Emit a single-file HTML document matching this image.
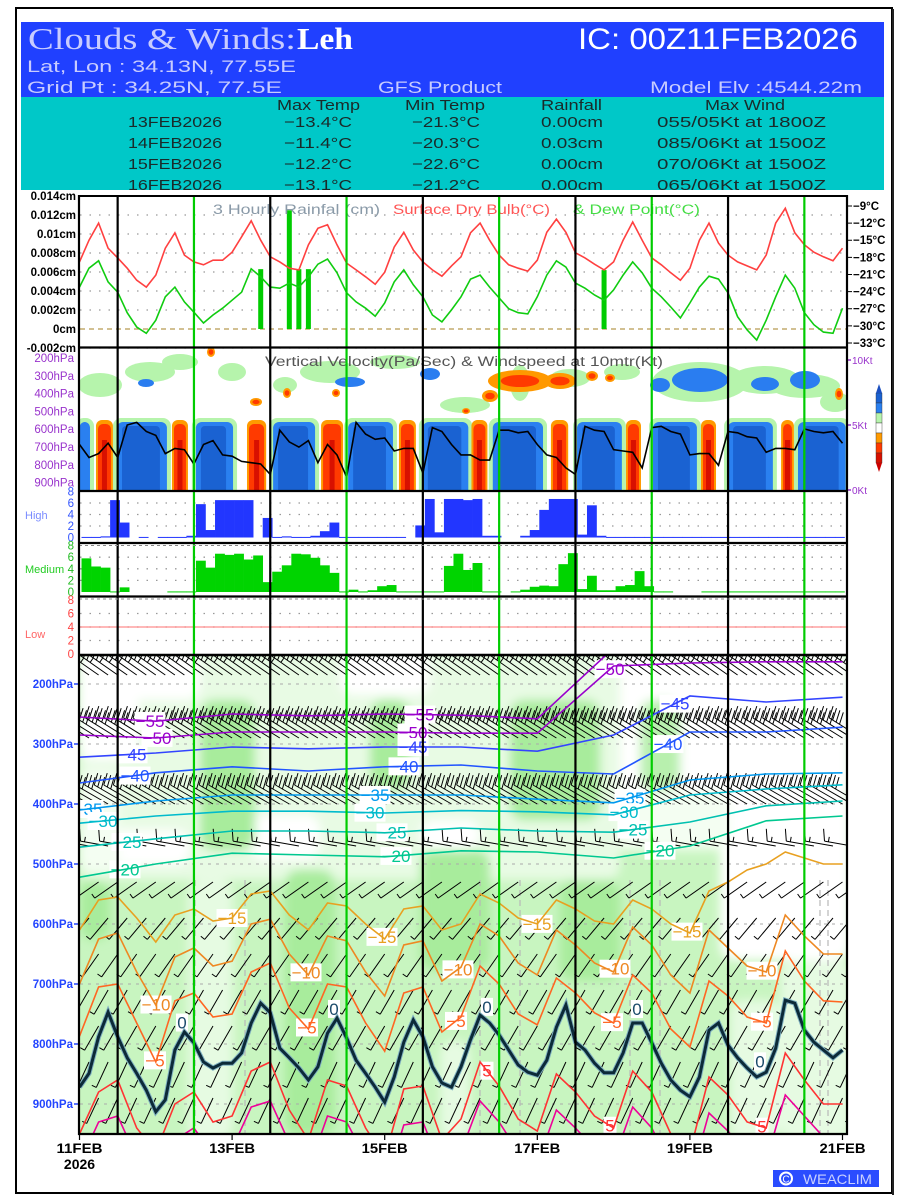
<!DOCTYPE html>
<html><head><meta charset="utf-8"><title>Clouds &amp; Winds: Leh</title>
<style>
html,body{margin:0;padding:0;background:#fff;width:900px;height:1200px;overflow:hidden}
svg{display:block;font-family:"Liberation Sans",sans-serif}
</style></head>
<body>
<svg id="chart" width="900" height="1200" viewBox="0 0 900 1200" xmlns="http://www.w3.org/2000/svg">
<defs>
<clipPath id="clipX"><rect x="79" y="655" width="768" height="479"/></clipPath>
<clipPath id="clipVV"><rect x="79" y="348" width="768" height="143"/></clipPath>
<clipPath id="clipHdr"><rect x="21" y="97" width="863" height="93"/></clipPath>
<filter id="blur" x="-10%" y="-10%" width="120%" height="120%"><feGaussianBlur stdDeviation="5"/></filter>
</defs>
<rect x="16" y="8" width="876" height="1185" fill="#fff" stroke="#000" stroke-width="2"/>
<line x1="893" y1="9" x2="893" y2="1195" stroke="#222" stroke-width="2"/>
<g>
<rect x="21" y="22" width="863" height="76" fill="#2040ff"/>
<rect x="21" y="97" width="863" height="93" fill="#00c8c8"/>
<text x="28" y="49" font-family="'Liberation Serif',serif" font-size="31" fill="#c8ccff" textLength="268" lengthAdjust="spacingAndGlyphs">Clouds &amp; Winds:</text>
<text x="297" y="49" font-family="'Liberation Serif',serif" font-size="31" font-weight="bold" fill="#fff" textLength="56" lengthAdjust="spacingAndGlyphs">Leh</text>
<text x="578" y="49" font-size="30" fill="#fff" textLength="280" lengthAdjust="spacingAndGlyphs">IC: 00Z11FEB2026</text>
<text x="27" y="72" font-size="17" fill="#c8ccff" textLength="269" lengthAdjust="spacingAndGlyphs">Lat, Lon : 34.13N, 77.55E</text>
<text x="27" y="93" font-size="17" fill="#c8ccff" textLength="255" lengthAdjust="spacingAndGlyphs">Grid Pt  : 34.25N, 77.5E</text>
<text x="378" y="93" font-size="17" fill="#c8ccff" textLength="124" lengthAdjust="spacingAndGlyphs">GFS Product</text>
<text x="650" y="93" font-size="17" fill="#c8ccff" textLength="212" lengthAdjust="spacingAndGlyphs">Model Elv :4544.22m</text>
<g clip-path="url(#clipHdr)" font-size="15" fill="#1a2a2a">
<text x="277" y="110" textLength="83" lengthAdjust="spacingAndGlyphs">Max Temp</text>
<text x="405" y="110" textLength="80" lengthAdjust="spacingAndGlyphs">Min Temp</text>
<text x="541" y="110" textLength="61" lengthAdjust="spacingAndGlyphs">Rainfall</text>
<text x="705" y="110" textLength="80" lengthAdjust="spacingAndGlyphs">Max Wind</text>
<g><text x="128" y="127" textLength="94" lengthAdjust="spacingAndGlyphs">13FEB2026</text><text x="284" y="127" textLength="68" lengthAdjust="spacingAndGlyphs">−13.4°C</text><text x="412" y="127" textLength="68" lengthAdjust="spacingAndGlyphs">−21.3°C</text><text x="541" y="127" textLength="62" lengthAdjust="spacingAndGlyphs">0.00cm</text><text x="657" y="127" textLength="169" lengthAdjust="spacingAndGlyphs">055/05Kt at 1800Z</text></g>
<g><text x="128" y="148" textLength="94" lengthAdjust="spacingAndGlyphs">14FEB2026</text><text x="284" y="148" textLength="68" lengthAdjust="spacingAndGlyphs">−11.4°C</text><text x="412" y="148" textLength="68" lengthAdjust="spacingAndGlyphs">−20.3°C</text><text x="541" y="148" textLength="62" lengthAdjust="spacingAndGlyphs">0.03cm</text><text x="657" y="148" textLength="169" lengthAdjust="spacingAndGlyphs">085/06Kt at 1500Z</text></g>
<g><text x="128" y="169" textLength="94" lengthAdjust="spacingAndGlyphs">15FEB2026</text><text x="284" y="169" textLength="68" lengthAdjust="spacingAndGlyphs">−12.2°C</text><text x="412" y="169" textLength="68" lengthAdjust="spacingAndGlyphs">−22.6°C</text><text x="541" y="169" textLength="62" lengthAdjust="spacingAndGlyphs">0.00cm</text><text x="657" y="169" textLength="169" lengthAdjust="spacingAndGlyphs">070/06Kt at 1500Z</text></g>
<g><text x="128" y="190" textLength="94" lengthAdjust="spacingAndGlyphs">16FEB2026</text><text x="284" y="190" textLength="68" lengthAdjust="spacingAndGlyphs">−13.1°C</text><text x="412" y="190" textLength="68" lengthAdjust="spacingAndGlyphs">−21.2°C</text><text x="541" y="190" textLength="62" lengthAdjust="spacingAndGlyphs">0.00cm</text><text x="657" y="190" textLength="169" lengthAdjust="spacingAndGlyphs">065/06Kt at 1500Z</text></g>
</g>
</g>
<g id="root"></g>
<g>
<rect x="773" y="1170" width="106" height="17" fill="#2a4cff"/>
<circle cx="786" cy="1178.5" r="6" fill="none" stroke="#fff" stroke-width="2"/>
<text x="786" y="1182.5" font-size="10" fill="#fff" text-anchor="middle">C</text>
<text x="803" y="1184" font-size="14" fill="#c8d0ff" textLength="69" lengthAdjust="spacingAndGlyphs">WEACLIM</text>
</g>
</svg>
<script>
// ---------- DATA (3-hourly from 11FEB2026 00Z) ----------
const dryBulb = [-18.8,-15.0,-12.0,-16.4,-18.1,-19.9,-22.0,-23.2,-21.1,-16.4,
-13.7,-17.6,-18.8,-19.3,-18.5,-18.5,-17.1,-14.4,-11.6,-15.0,
-17.9,-18.8,-19.9,-20.2,-15.8,-12.9,-12.3,-15.8,-19.0,-20.2,
-21.4,-22.7,-20.6,-16.2,-13.6,-16.7,-18.8,-20.2,-21.3,-19.5,
-17.9,-13.7,-12.0,-15.0,-17.6,-19.3,-19.9,-20.4,-18.5,-13.6,
-11.3,-13.6,-17.2,-18.1,-19.2,-20.2,-18.8,-15.0,-11.8,-15.0,
-18.1,-19.3,-20.7,-22.0,-19.9,-15.0,-12.0,-15.5,-17.6,-18.8,
-19.5,-20.2,-17.6,-12.0,-9.4,-13.7,-15.8,-17.1,-17.9,-18.6,-16.4];
const dewPoint = [-23.2,-19.9,-18.6,-22.3,-24.1,-27.7,-30.2,-31.3,-29.0,-24.9,
-23.2,-25.8,-27.6,-29.5,-28.1,-26.9,-25.5,-24.1,-20.0,-21.4,
-23.2,-23.4,-22.5,-23.2,-21.4,-19.2,-18.3,-20.7,-24.2,-25.8,
-26.9,-28.3,-26.0,-22.3,-20.2,-22.8,-24.9,-28.1,-29.3,-27.2,
-24.9,-21.8,-21.1,-23.2,-25.1,-27.0,-27.7,-27.9,-24.9,-21.1,
-18.6,-19.7,-22.5,-23.4,-24.6,-25.5,-23.7,-21.1,-18.8,-20.7,
-23.4,-24.9,-26.7,-28.6,-26.0,-23.2,-21.3,-21.8,-24.2,-28.4,
-30.7,-32.5,-29.0,-24.9,-21.1,-23.4,-27.7,-29.8,-31.1,-31.3,-26.9];
const rainfall = [0,0,0,0,0,0,0,0,0,0, 0,0,0,0,0,0,0,0,0,0.0063, 0,0,0.0125,0.0063,0.0063,0,0,0,0,0,
0,0,0,0,0,0,0,0,0,0, 0,0,0,0,0,0,0,0,0,0, 0,0,0,0,0,0.0062,0,0,0,0, 0,0,0,0,0,0,0,0,0,0, 0,0,0,0,0,0,0,0,0,0,0];
const wind10m = [3.5,2.5,2.8,3.6,2.5,5.0,5.2,4.5,4.2,2.8,
3.2,3.1,2.0,3.5,3.8,2.7,2.6,2.2,2.1,2.0,
1.2,4.6,3.7,3.3,3.8,2.1,3.5,2.7,1.0,5.2,
4.3,3.9,4.0,3.0,3.2,3.2,1.3,4.8,4.5,3.5,
2.7,2.7,2.3,2.3,4.6,4.6,4.4,4.5,3.5,2.7,
2.5,1.7,1.2,4.9,4.6,4.5,3.1,3.0,2.9,1.7,
4.8,4.9,4.5,4.3,2.7,2.8,2.8,1.9,4.5,4.4,
4.1,4.0,2.9,3.2,3.2,3.1,4.7,4.5,4.4,4.5,3.6];
const highCloud = [0.1,0.1,0.2,6.5,2.6,0,0.1,0,0.1,0.1,
0.1,0.3,5.8,1.3,6.5,6.5,6.5,6.5,0,3.4,
0.1,0.2,0.1,0.1,0.3,1.1,2.6,0.1,0.1,0.1,
0.1,0.1,0.1,0.1,0,2.1,6.7,0.9,6.7,6.7,
6.5,6.7,0.3,0.3,0,0,0.3,1.3,4.8,6.7,
6.7,6.7,0.5,5.6,0.3,0.1,0.1,0.1,0.1,0.1,
0.1,0.1,0.1,0.1,0.1,0.1,0.1,0.1,0.1,0.1,
0.1,0.1,0.1,0.1,0.1,0.1,0.1,0.1,0.1,0.1];
const mediumCloud = [5.8,4.4,4.2,0.1,0.8,0,0,0,0,0.1,
0.1,0.1,5.4,4.2,6.6,6.4,6.6,5.6,6.3,1.7,
3.5,4.6,6.6,6.5,5.9,4.6,3.3,0.1,0.4,0.1,
0.3,1.0,1.2,0.1,0.1,0.1,0.1,0.1,4.5,6.6,
3.8,5.0,0.1,0.1,0,0.1,0.4,0.9,1.1,1.0,
4.8,6.7,0.5,2.8,0.3,0.3,1.0,1.2,3.6,1.0,
0.1,0.1,0,0,0,0.1,0.1,0.1,0.1,0.1,
0.1,0.1,0.1,0.1,0.1,0.1,0.1,0.1,0.1,0.1];
const lowCloud = new Array(80).fill(0);
const rainTicks = [0.014,0.012,0.01,0.008,0.006,0.004,0.002,0,-0.002];
const rainTickLabels = ["0.014cm","0.012cm","0.01cm","0.008cm","0.006cm","0.004cm","0.002cm","0cm","-0.002cm"];
const tempTicks = [-9,-12,-15,-18,-21,-24,-27,-30,-33];
const vvLevels = [200,300,400,500,600,700,800,900];
const cloudTicks = [8,6,4,2,0];
const pressureTicks = [200,300,400,500,600,700,800,900];
const dateLabels = ["11FEB","13FEB","15FEB","17FEB","19FEB","21FEB"];
const dateDays = [0,2,4,6,8,10];
const iso0 = [872,849,788,747,788,823,849,877,913,893,
810,780,798,830,840,832,832,815,765,732,
748,807,823,840,860,838,782,757,790,827,
849,872,897,855,797,760,788,838,865,872,
838,793,752,765,785,810,835,847,852,827,
772,735,797,810,832,848,848,815,765,765,
798,832,860,877,888,855,777,765,802,823,
840,855,847,807,727,732,777,797,810,823,810];
const isoM5 = [787,705,700,765,830,728,715,755,750,680,665,740,775,700,705,765,812,715,705,780,755,670,700,750,768,690,715,748,765,685,715,775,805,695,720,755,765,645,695,728,730];
const isoM10 = [700,625,615,680,735,655,640,670,662,600,592,650,685,620,628,680,720,635,628,695,672,600,620,665,685,610,635,665,680,605,635,685,715,610,640,670,680,585,620,650,650];
const isoM15 = [610,560,555,590,630,585,575,595,590,550,545,585,610,565,570,600,625,575,570,610,600,550,565,590,600,560,575,595,600,560,575,600,615,545,530,510,500,480,490,500,500];
const isoP5 = [950,880,860,940,980,900,880,930,920,845,830,910,960,860,870,940,990,875,870,960,925,830,870,925,945,850,880,920,940,845,880,950,980,855,885,930,940,815,860,900,900];
const isoP10 = [1000,930,920,990,1040,960,940,985,975,905,895,965,1010,920,930,990,1040,935,930,1010,980,895,930,980,1000,910,940,975,995,905,940,1005,1030,915,945,985,995,885,920,955,955];
const isoM20 = [522,500,482,485,488,478,480,490,470,428,420];
const isoM25 = [472,458,445,445,448,440,445,447,430,403,395];
const isoM30 = [432,420,412,412,415,411,413,418,385,375,368];
const isoM35 = [410,395,385,385,385,385,392,398,360,350,348];
const isoM40 = [365,348,338,345,338,335,345,350,280,280,272];
const isoM45 = [322,315,305,308,305,305,312,285,220,230,222];
const isoM50 = [285,290,280,280,280,282,282,170,165,163,163];
const isoM55 = [255,262,250,253,250,252,258,140,140,140,140];
const vvSinking = [[0,3.3],[11.8,27.5],[36.6,48.3],[60.9,74.1],[84.5,98.6],[108,122.3],[130,145.8],[156.5,170.6],[180.4,194.2],[204,218.1],[226,241]];
const vvRising = [[5.5,10.2],[29.4,33.8],[53,58.4],[76.3,82.6],[100.8,105.5],[123.6,128],[148.6,153.4],[172.2,176.3],[195.8,199.9],[221,224.4]];
const barbLevels = [185,290,400,470,530,590,650,710,770,830,890,950];
const barbSpeed = [45,40,30,15,5,5,5,5,5,5,5,5];
const barbDir = [305,302,300,280,235,220,215,210,210,205,205,200];
const barbStepK = [1,1,1,2,2,2,2,2,2,2,2,2];

// ---------- SCALES ----------
const root = document.getElementById('root');
const NS = 'http://www.w3.org/2000/svg';
const X0 = 79.5, PXH = 76.3/24;
function xH(h){ return X0 + h*PXH; }
function xK(k){ return xH(3*k); }
function yRain(v){ return 329 - v*9500; }
function yTemp(t){ return 206 + (-9 - t)*5.708; }
function yWind(kt){ return 490 - 13*kt; }
function yVVp(p){ return 358 + (p-200)*0.178; }
function yHigh(v){ return 537.5 - 5.75*v; }
function yMed(v){ return 592 - 5.8*v; }
function yLow(v){ return 654 - 6.75*v; }
function yP(p){ return 684 + (p-200)*0.6; }
function mk(tag, attrs, parent){
  const e = document.createElementNS(NS, tag);
  for (const a in attrs) e.setAttribute(a, attrs[a]);
  (parent || root).appendChild(e);
  return e;
}
function grp(name){
  const g = mk('g', {});
  
  
  return g;
}
function pts(arr, xf, yf){ return arr.map((v,i)=>xf(i).toFixed(1)+','+yf(v).toFixed(1)).join(' '); }
function interp(arr, stepH, h){
  const f = h/stepH; const i = Math.max(0, Math.min(arr.length-2, Math.floor(f)));
  const t = f - i; return arr[i]*(1-t) + arr[i+1]*t;
}

// ---------- GRIDS ----------
const gGrid = grp('grid-lines');
rainTicks.forEach(v=>{
  if (v===0) return;
  const l = mk('line',{x1:80,x2:846,y1:yRain(v),y2:yRain(v),stroke:'#999','stroke-width':1.3,'stroke-dasharray':'1.5,8'},gGrid);
  
  
});
[2,4,6].forEach(v=>{
  const a = mk('line',{x1:80,x2:846,y1:yHigh(v),y2:yHigh(v),stroke:'#999','stroke-width':1.3,'stroke-dasharray':'1.5,8'},gGrid);
  
  
  const b = mk('line',{x1:80,x2:846,y1:yMed(v),y2:yMed(v),stroke:'#999','stroke-width':1.3,'stroke-dasharray':'1.5,8'},gGrid);
  
  
  const c = mk('line',{x1:80,x2:846,y1:yLow(v),y2:yLow(v),stroke:'#999','stroke-width':1.3,'stroke-dasharray':'1.5,8'},gGrid);
  
  
});

// ---------- PANEL 1 ----------
const g1 = grp('temperature-rain-panel');
const zl = mk('line',{x1:80,x2:846,y1:yRain(0),y2:yRain(0),stroke:'#b89a50','stroke-width':1.3,'stroke-dasharray':'5,4'},g1);


rainfall.forEach((v,k)=>{
  if (v<=0) return;
  const r = mk('rect',{x:xK(k)-2.5,y:yRain(v),width:5,height:yRain(0)-yRain(v),fill:'#00cc00'},g1);
  
  
});
const dbl = mk('polyline',{points:pts(dryBulb,xK,yTemp),fill:'none',stroke:'#ff4040','stroke-width':1.6},g1);


const dpl = mk('polyline',{points:pts(dewPoint,xK,yTemp),fill:'none',stroke:'#10cc10','stroke-width':1.6},g1);


const t1 = mk('text',{x:213,y:214,'font-size':13.5,fill:'#8a9aa8',textLength:167,lengthAdjust:'spacingAndGlyphs'},g1);
t1.textContent='3 Hourly Rainfal (cm)';


const t2 = mk('text',{x:393,y:214,'font-size':13.5,fill:'#ff5555',textLength:157,lengthAdjust:'spacingAndGlyphs'},g1);
t2.textContent='Surface Dry Bulb(°C)';


const t3 = mk('text',{x:573,y:214,'font-size':13.5,fill:'#44dd44',textLength:127,lengthAdjust:'spacingAndGlyphs'},g1);
t3.textContent='& Dew Point(°C)';


rainTicks.forEach((v,i)=>{
  const t = mk('text',{x:76,y:yRain(v)+4,'font-size':11.5,'font-weight':'bold','text-anchor':'end',fill:'#000'},g1);
  t.textContent = rainTickLabels[i];
  
  
});
tempTicks.forEach(v=>{
  const tk = mk('line',{x1:847,x2:852,y1:yTemp(v),y2:yTemp(v),stroke:'#000','stroke-width':1},g1);
  
  
  const t = mk('text',{x:853,y:yTemp(v)+4,'font-size':11.5,'font-weight':'bold',fill:'#000'},g1);
  t.textContent = '−'+Math.abs(v)+'°C';
  
  
});

// ---------- PANEL 2 ----------
const g2 = grp('vertical-velocity-panel');
const g2c = mk('g',{'clip-path':'url(#clipVV)'},g2);


const blobsG = [[100,385,22,12],[150,372,25,10],[180,362,18,8],[232,372,14,9],[330,372,30,11],[395,362,25,7],[465,405,25,8],[520,383,10,18],[570,378,20,9],[622,372,18,8],[700,382,48,20],[765,380,35,14],[805,386,35,12],[835,402,15,10],[285,385,12,8]];
blobsG.forEach(b=>{
  const e = mk('ellipse',{cx:b[0],cy:b[1],rx:b[2],ry:b[3],fill:'#b6f4ac'},g2c);
  
  
});
const blobsB = [[146,383,8,4],[350,382,15,5],[430,374,10,6],[700,380,28,12],[660,385,10,7],[805,380,15,9],[765,384,14,7]];
blobsB.forEach(b=>{
  const e = mk('ellipse',{cx:b[0],cy:b[1],rx:b[2],ry:b[3],fill:'#2a7df0'},g2c);
  
  
});
const blobsR = [[211,352,4,5],[256,402,6,4],[287,393,4,5],[336,393,4,4],[520,381,32,11],[560,381,16,8],[592,376,6,5],[610,378,5,4],[490,396,8,6],[466,411,4,3],[839,394,4,6]];
blobsR.forEach(b=>{
  const e = mk('ellipse',{cx:b[0],cy:b[1],rx:b[2],ry:b[3],fill:'#ff9900'},g2c);
  
  
  const e2 = mk('ellipse',{cx:b[0],cy:b[1],rx:b[2]*0.6,ry:b[3]*0.55,fill:'#ff3a00'},g2c);
  
  
});
vvSinking.forEach(s=>{
  const x1 = xH(s[0]), x2 = xH(s[1]);
  const a = mk('rect',{x:x1-4,y:418,width:x2-x1+8,height:80,rx:8,fill:'#b6f4ac'},g2c);
  
  
  const b = mk('rect',{x:x1,y:422,width:x2-x1,height:80,rx:6,fill:'#2a80f0'},g2c);
  
  
  const c = mk('rect',{x:x1+5,y:426,width:Math.max(0,x2-x1-12),height:80,rx:4,fill:'#1a62d2'},g2c);
  
  
});
vvRising.forEach(s=>{
  const x1 = xH(s[0]), x2 = xH(s[1]);
  const a = mk('rect',{x:x1-1,y:420,width:x2-x1+2,height:80,rx:6,fill:'#ff9a00'},g2c);
  
  
  const b = mk('rect',{x:x1+1,y:424,width:x2-x1-2,height:80,rx:5,fill:'#ff3a00'},g2c);
  
  
  const c = mk('rect',{x:(x1+x2)/2-2.5,y:440,width:5,height:60,fill:'#d81000'},g2c);
  
  
});
const wl = mk('polyline',{points:pts(wind10m,xK,yWind),fill:'none',stroke:'#000','stroke-width':1.6},g2);


const vt = mk('text',{x:265,y:366,'font-size':13.5,fill:'#555',textLength:398,lengthAdjust:'spacingAndGlyphs'},g2);
vt.textContent='Vertical Velocity(Pa/Sec) & Windspeed at 10mtr(Kt)';


vvLevels.forEach(p=>{
  const t = mk('text',{x:74,y:yVVp(p)+4,'font-size':11.5,'text-anchor':'end',fill:'#9933cc'},g2);
  t.textContent = p+'hPa';
  
  
});
[[10,'10Kt'],[5,'5Kt'],[0,'0Kt']].forEach(d=>{
  const tk = mk('line',{x1:847,x2:851,y1:yWind(d[0]),y2:yWind(d[0]),stroke:'#9933cc','stroke-width':1.5},g2);
  
  
  const t = mk('text',{x:852,y:yWind(d[0])+4,'font-size':10,fill:'#9933cc'},g2);
  t.textContent = d[1];
  
  
});
const cbCols = ['#1a62d2','#2a80f0','#b6f4ac','#ffffff','#ff9a00','#ff3a00','#d81000'];
const cb = grp('vv-colorbar');
cbCols.forEach((c,i)=>{
  const r = mk('rect',{x:876,y:393+i*10,width:6,height:10,fill:c,stroke:'#333','stroke-width':0.4},cb);
  
  
});
const cbt = mk('polygon',{points:'876,393 879,384 882,393',fill:'#1a4fc0'},cb);


const cbb = mk('polygon',{points:'876,463 879,472 882,463',fill:'#c00'},cb);



// ---------- CLOUD PANELS ----------
function cloudPanel(name, arr, yf, color, label, labColor, tickColor, labelY){
  const g = grp(name);
  arr.forEach((v,k)=>{
    if (v<=0) return;
    const x1 = xK(k)+2, x2 = Math.min(847, xK(k+1)+2);
    const r = mk('rect',{x:x1,y:yf(v),width:x2-x1+0.3,height:Math.max(1,yf(0)-yf(v)),fill:color},g);
    
    
  });
  cloudTicks.forEach(v=>{
    const t = mk('text',{x:74,y:yf(v)+4,'font-size':11.5,'text-anchor':'end',fill:tickColor},g);
    t.textContent = v;
    
    
  });
  const l = mk('text',{x:25,y:labelY,'font-size':11,fill:labColor},g);
  l.textContent = label;
  
  
  return g;
}
cloudPanel('high-cloud-panel', highCloud, yHigh, '#2236ff', 'High', '#7a8cff', '#3355ff', 519);
cloudPanel('medium-cloud-panel', mediumCloud, yMed, '#00d400', 'Medium', '#22cc22', '#22bb22', 573);
const lowG = cloudPanel('low-cloud-panel', lowCloud, yLow, '#ff4040', 'Low', '#ff6666', '#ff4444', 638);
const lref = mk('line',{x1:80,x2:846,y1:yLow(4),y2:yLow(4),stroke:'#ff7070','stroke-width':1},lowG);



// ---------- CROSS-SECTION ----------
const g6 = grp('cross-section-panel');
const g6c = mk('g',{'clip-path':'url(#clipX)'},g6);


const bg = mk('rect',{x:79,y:655,width:768,height:479,fill:'#c8f5c0'},g6c);


const rhG = mk('g',{filter:'url(#blur)'},g6c);


const rhShapes = [
 ['#e8fbe4',79,650,530,230],['#ffffff',79,650,60,110],['#ffffff',130,650,70,50],['#ffffff',340,650,90,45],
 ['#ffffff',600,650,250,150],['#ffffff',720,790,130,170],['#f4fef2',610,790,120,60],['#e8fbe4',560,650,60,230],
 ['#ffffff',250,815,70,45],['#ffffff',420,820,60,30],['#ffffff',110,830,80,35],['#f4fef2',79,770,40,100],
 ['#a8ec9c',200,700,55,150],['#a8ec9c',510,700,90,120],['#a8ec9c',420,850,70,120],['#a8ec9c',285,870,50,265],
 ['#a8ec9c',80,880,30,60],['#b8f0ae',640,700,40,90],['#a8ec9c',560,880,60,100],['#a8ec9c',370,700,40,90],
 ['#e6fbe2',188,880,45,260],['#e6fbe2',780,960,70,180],['#e6fbe2',440,1040,30,100],['#e6fbe2',730,1000,50,140]
];
rhShapes.forEach(s=>{
  const r = mk('rect',{x:s[1],y:s[2],width:s[3],height:s[4],rx:14,fill:s[0]},rhG);
  
  
});
pressureTicks.forEach(p=>{
  const l = mk('line',{x1:80,x2:846,y1:yP(p),y2:yP(p),stroke:'#aaa','stroke-width':1,'stroke-dasharray':'3,5'},g6c);
  
  
});
[245,480,520,630,660,820,828,195].forEach(x=>{
  const l = mk('line',{x1:x,x2:x,y1:880,y2:1134,stroke:'#b8b8b8','stroke-width':1.2,'stroke-dasharray':'6,4'},g6c);
  
  
});
const gb = mk('g',{stroke:'#000','stroke-width':1,fill:'none'},g6c);


barbLevels.forEach((p,li)=>{
  const step = barbStepK[li];
  for (let k=(step===2 ? (li%2) : 0); k<=82; k+=step){
    const x = xK(k), y = yP(p);
    const dir = barbDir[li]*Math.PI/180, L = p<450 ? 38 : 28;
    const dx = Math.sin(dir), dy = -Math.cos(dir);
    const ex = x + dx*L, ey = y + dy*L;
    let d = 'M'+x.toFixed(1)+','+y.toFixed(1)+'L'+ex.toFixed(1)+','+ey.toFixed(1);
    let sp = barbSpeed[li], pos = 0;
    const px = -dy, py = dx;
    while (sp >= 10){
      const bx = ex - dx*pos, by = ey - dy*pos;
      d += 'M'+bx.toFixed(1)+','+by.toFixed(1)+'l'+(px*12+dx*3).toFixed(1)+','+(py*12+dy*3).toFixed(1);
      sp -= 10; pos += 4;
    }
    if (sp >= 5){
      const bx = ex - dx*pos, by = ey - dy*pos;
      d += 'M'+bx.toFixed(1)+','+by.toFixed(1)+'l'+(px*5).toFixed(1)+','+(py*5).toFixed(1);
    }
    const b = mk('path',{d:d},gb);
    
    
  }
});
const isoDefs = [
 [isoM55,24,'#9900cc',1.6,'-55',[150,420]],
 [isoM50,24,'#9900cc',1.6,'-50',[157,413,610]],
 [isoM45,24,'#3344ff',1.6,'-45',[132,413,675]],
 [isoM40,24,'#2255ff',1.6,'-40',[135,404,668]],
 [isoM35,24,'#0099ee',1.6,'-35',[88,375,630]],
 [isoM30,24,'#00bbcc',1.6,'-30',[103,370,624]],
 [isoM25,24,'#00c0b0',1.6,'-25',[127,392,633]],
 [isoM20,24,'#00c890',1.6,'-20',[125,396,660]],
 [isoM15,6,'#e8a020',1.6,'-15',[232,382,537,687]],
 [isoM10,6,'#ee8822',1.6,'-10',[156,306,458,615,762]],
 [isoM5,6,'#ff6622',1.6,'-5',[155,307,456,612,762]],
 [isoP5,6,'#ff3333',1.6,'5',[487,610,762]],
 [isoP10,6,'#ee0099',1.6,'',[]]
];
const gl = mk('g',{},g6c);


isoDefs.forEach(def=>{
  const [arr,step,col,w,lab,lx] = def;
  const l = mk('polyline',{points:pts(arr,i=>xH(i*step),yP),fill:'none',stroke:col,'stroke-width':w},g6c);
  
  
  lx.forEach(x=>{
    const h = (x - X0)/PXH; const y = yP(interp(arr, step, h));
    if (y < 660 || y > 1128) return;
    const bw = lab.length*9+4;
    const r = mk('rect',{x:x-bw/2,y:y-9,width:bw,height:18,fill:'#fff'},gl);
    
    
    const t = mk('text',{x:x,y:y+6,'font-size':17,'text-anchor':'middle',fill:col},gl);
    t.textContent = lab.replace('-','−');
    
    
  });
});
const z0a = mk('polyline',{points:pts(iso0,xK,yP),fill:'none',stroke:'#7fb0c0','stroke-width':5},g6c);


const z0 = mk('polyline',{points:pts(iso0,xK,yP),fill:'none',stroke:'#0c2a38','stroke-width':3},g6c);


[182,334,487,637,760].forEach(x=>{
  const h = (x-X0)/PXH; const y = yP(interp(iso0,3,h)) - 14;
  const r = mk('rect',{x:x-6,y:y-9,width:12,height:18,fill:'#fff'},gl);
  
  
  const t = mk('text',{x:x,y:y+6,'font-size':17,'text-anchor':'middle',fill:'#1a4a6a'},gl);
  t.textContent = '0';
  
  
});
pressureTicks.forEach(p=>{
  const tk = mk('line',{x1:74,x2:79,y1:yP(p),y2:yP(p),stroke:'#2244ff','stroke-width':1.5},g6);
  
  
  const t = mk('text',{x:73,y:yP(p)+4,'font-size':11.5,'font-weight':'bold','text-anchor':'end',fill:'#2244ff'},g6);
  t.textContent = p+'hPa';
  
  
});

// ---------- MARKERS / FRAMES / AXIS ----------
const gv = grp('time-markers');
for (let d=0; d<5; d++){
  const xb = xH(12 + 48*d);
  const b = mk('line',{x1:xb,x2:xb,y1:196,y2:1134,stroke:'#000','stroke-width':2.2},gv);
  
  
  const xg = xH(36 + 48*d);
  const g = mk('line',{x1:xg,x2:xg,y1:196,y2:1134,stroke:'#00cc00','stroke-width':2.2},gv);
  
  
}
const gf = grp('panel-frames');
[[196,2],[347.5,2.2],[491,2.2],[543,2.2],[596.5,2.2],[655,2.5],[1134,2.2]].forEach(s=>{
  const l = mk('line',{x1:78,x2:848,y1:s[0],y2:s[0],stroke:'#000','stroke-width':s[1]},gf);
  
  
});
[[545.5,'#888'],[599,'#888']].forEach(s=>{
  const l = mk('line',{x1:79,x2:847,y1:s[0],y2:s[0],stroke:s[1],'stroke-width':1,'stroke-dasharray':'3,3'},gf);
  
  
});
[79,847].forEach(x=>{
  const l = mk('line',{x1:x,x2:x,y1:195,y2:1135,stroke:'#000','stroke-width':2.2},gf);
  
  
});
const gx = grp('x-axis');
dateDays.forEach((d,i)=>{
  const x = xH(d*24);
  const tk = mk('line',{x1:x,x2:x,y1:1134,y2:1140,stroke:'#000','stroke-width':1.2},gx);
  
  
  const t = mk('text',{x:x,y:1153,'font-size':14,'font-weight':'bold','text-anchor':'middle',fill:'#000',textLength:46,lengthAdjust:'spacingAndGlyphs'},gx);
  t.textContent = dateLabels[i];
  
  
});
const yr = mk('text',{x:xH(0),y:1169,'font-size':14,'font-weight':'bold','text-anchor':'middle',fill:'#000'},gx);
yr.textContent = '2026';


</script>
</body></html>
